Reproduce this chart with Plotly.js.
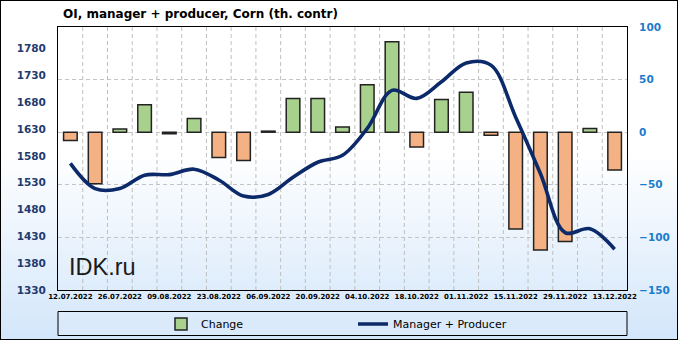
<!DOCTYPE html>
<html><head><meta charset="utf-8">
<script src="https://cdn.plot.ly/plotly-3.0.1.min.js"></script>
<style>
html,body{margin:0;padding:0;background:#fff;}
#frame{position:absolute;left:0;top:0;width:678px;height:340px;box-sizing:border-box;border:1px solid #000;background:linear-gradient(to bottom,#ffffff 0%,#ffffff 45%,#d3e6fa 100%);}
#chart{position:absolute;left:0;top:0;width:681px;height:341px;}
</style></head><body>
<div id="frame"></div><div id="chart"></div>
<script>
const weeks = ['12.07.2022','19.07.2022','26.07.2022','02.08.2022','09.08.2022','16.08.2022','23.08.2022','30.08.2022','06.09.2022','13.09.2022','20.09.2022','27.09.2022','04.10.2022','11.10.2022','18.10.2022','25.10.2022','01.11.2022','08.11.2022','15.11.2022','22.11.2022','29.11.2022','06.12.2022','13.12.2022'];
const changeValues = [-8, -49, 3, 26, -1.5, 13, -24, -27, 1, 32, 32, 5, 45, 86, -14, 31, 38, -3, -92, -112, -104, 3.5, -36];
const oiValues = [1566, 1519, 1519, 1544, 1545, 1555, 1535, 1505, 1508, 1540, 1568, 1581, 1631, 1702, 1687, 1718, 1753, 1749, 1652, 1547, 1437, 1444, 1406];
const leftTicks = [1330, 1380, 1430, 1480, 1530, 1580, 1630, 1680, 1730, 1780];
const rightTicks = [-150, -100, -50, 0, 50, 100];
const titleText = 'OI, manager + producer, Corn (th. contr)';
const barName = 'Change';
const lineName = 'Manager + Producer';
const watermark = 'IDK.ru';

const idx = weeks.map((d, i) => i);
const labelIdx = idx.filter(i => i % 2 === 0);
const labelText = labelIdx.map(i => weeks[i]);
const innerBoundaries = idx.slice(1).map(i => i - 0.5);
const posIdx = idx.filter(i => changeValues[i] >= 0);
const negIdx = idx.filter(i => changeValues[i] < 0);
const xRange = [-0.5, weeks.length - 0.5];
const rightRange = [rightTicks[0], rightTicks[rightTicks.length - 1]];

// vertical category-boundary grid, built from the boundaries
const gridX = [], gridY = [];
innerBoundaries.forEach(b => { gridX.push(b, b, null); gridY.push(rightRange[0], rightRange[1], null); });

const F = 'DejaVu Sans, Verdana, sans-serif';
const GRID = '#c4c4c4';
const DASH = '4px,3px';

const traces = [
  {type:'scatter', mode:'lines', x:gridX, y:gridY, yaxis:'y', showlegend:false, hoverinfo:'skip',
   line:{color:'#bfbfbf', width:1, dash:DASH}},
  {type:'bar', name:barName, x:posIdx, y:posIdx.map(i=>changeValues[i]), yaxis:'y2',
   width:0.55, marker:{color:'#a9d18e', line:{color:'#222', width:1.5}}, hoverinfo:'x+y'},
  {type:'bar', name:barName+' (neg)', showlegend:false, x:negIdx, y:negIdx.map(i=>changeValues[i]), yaxis:'y2',
   width:0.55, marker:{color:'#f4b183', line:{color:'#222', width:1.5}}, hoverinfo:'x+y'},
  {type:'scatter', mode:'lines', name:lineName, x:idx, y:oiValues, yaxis:'y3',
   line:{color:'#0c2a6a', width:3.6, shape:'spline', smoothing:1}}
];

const layout = {
  width:681, height:341,
  margin:{l:58, r:54, t:27, b:51},
  paper_bgcolor:'rgba(0,0,0,0)', plot_bgcolor:'rgba(0,0,0,0)',
  barmode:'overlay',
  showlegend:true,
  title:{text:titleText, x:63/681, xanchor:'left', xref:'container', y:1-14/341, yanchor:'middle', yref:'container',
         font:{family:F, size:12, weight:'bold', color:'#000'}},
  xaxis:{range:xRange, tickmode:'array', tickvals:labelIdx, ticktext:labelText,
         tickfont:{family:F, size:7, weight:'bold', color:'#000'}, showgrid:false, zeroline:false,
         showline:true, linecolor:'#000', linewidth:1, mirror:true, ticks:'', tickangle:0},
  yaxis:{range:rightRange, side:'right', tickmode:'array', tickvals:rightTicks,
         tickfont:{family:F, size:10.5, weight:'bold', color:'#1b7ccc'},
         showgrid:true, gridcolor:GRID, gridwidth:1, griddash:DASH, zeroline:false,
         showline:true, linecolor:'#000', linewidth:1, mirror:true, ticks:'outside', ticklen:9, tickcolor:'rgba(0,0,0,0)'},
  yaxis2:{range:rightRange, overlaying:'y', side:'right', showticklabels:false, showgrid:false, zeroline:false,
          showline:false, ticks:''},
  yaxis3:{range:[1330, 1820], overlaying:'y', side:'left', tickmode:'array', tickvals:leftTicks,
          tickfont:{family:F, size:10.5, weight:'bold', color:'#1f3a6e'},
          showgrid:false, zeroline:false, ticks:'outside', ticklen:9, tickcolor:'rgba(0,0,0,0)'},
  legend:{orientation:'h', xref:'container', yref:'container', x:161/681, xanchor:'left', y:1-324/341, yanchor:'middle',
          bgcolor:'rgba(0,0,0,0)', borderwidth:0, entrywidth:147, entrywidthmode:'pixels',
          font:{family:F, size:11, color:'#000'}, traceorder:'normal'},
  shapes:[{type:'rect', xref:'paper', yref:'paper', x0:0, x1:1, y0:(290-311.5)/263, y1:(290-335.5)/263,
           line:{color:'#000', width:1}, fillcolor:'rgba(255,255,255,0.12)', layer:'below'}],
  annotations:[{text:watermark, xref:'paper', yref:'paper', x:(67-58)/569, xanchor:'left', y:(290-267)/263, yanchor:'middle',
                showarrow:false, font:{family:'Liberation Sans, Arial, sans-serif', size:23.5, color:'#1a1a1a'}}]
};

Plotly.newPlot('chart', traces, layout, {displayModeBar:false, staticPlot:true});
</script>
</body></html>
